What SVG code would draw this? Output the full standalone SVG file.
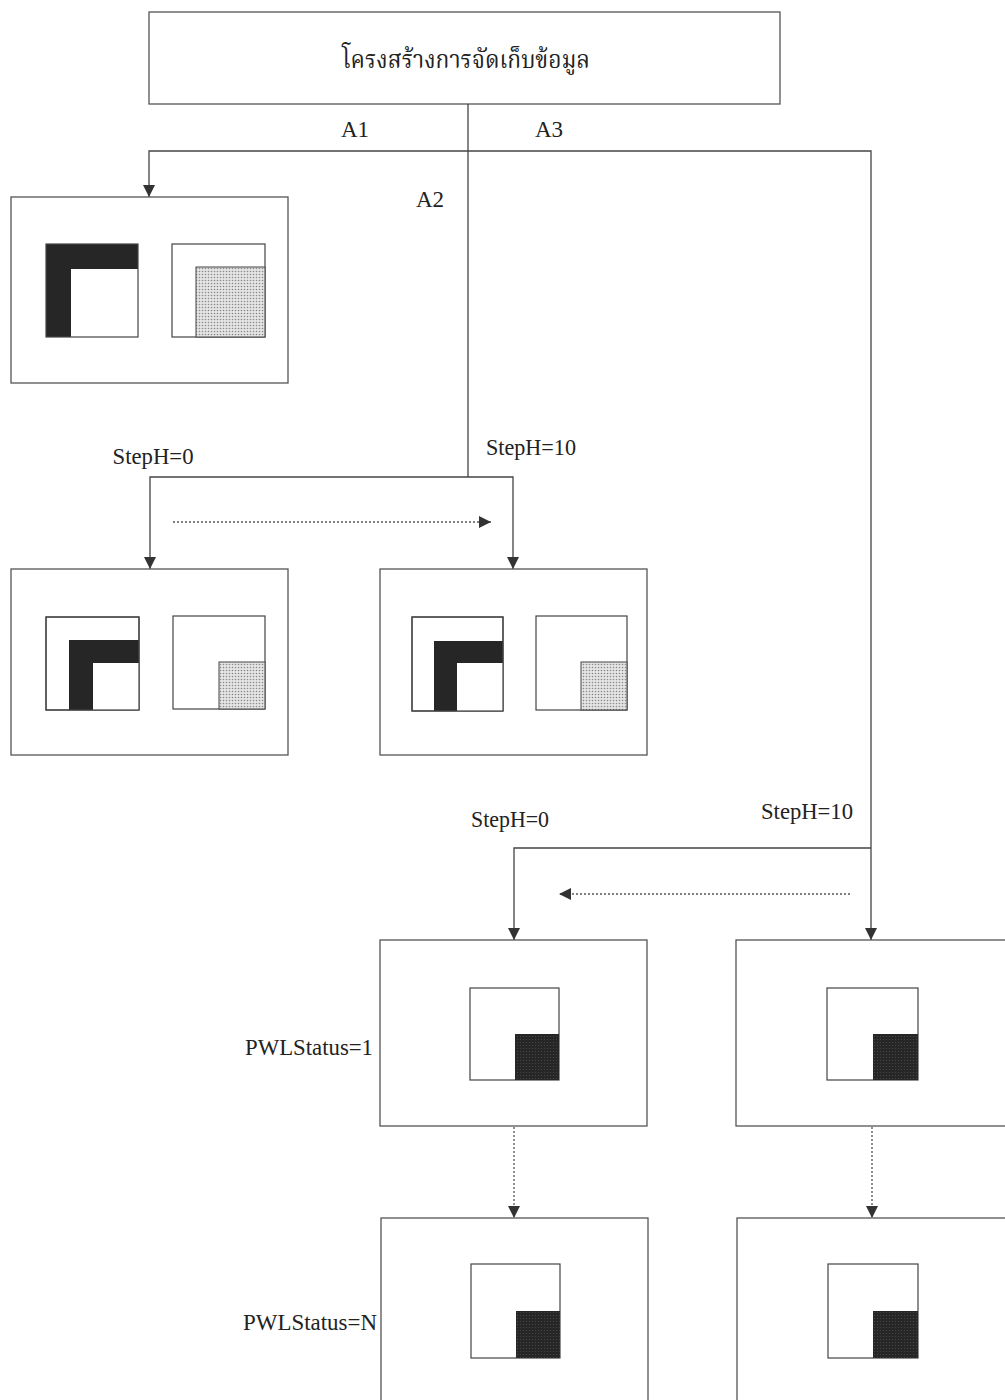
<svg xmlns="http://www.w3.org/2000/svg" width="1005" height="1400" viewBox="0 0 1005 1400">
<style>
.box{fill:#fff;stroke:#555;stroke-width:1.3}
.sq{fill:#fff;stroke:#444;stroke-width:1.2}
.ol{fill:none;stroke:#444;stroke-width:1.2}
.blk{fill:#262626}
.gry{fill:url(#stip);stroke:#444;stroke-width:1}
.drk{fill:url(#dstip)}
.ln{fill:none;stroke:#444;stroke-width:1.3}
.dot{fill:none;stroke:#555;stroke-width:1.3;stroke-dasharray:2 2}
.lbl{font-family:"Liberation Serif","Times New Roman",serif;font-size:23px;fill:#222;text-anchor:middle}
.th{font-family:"Noto Serif Thai","Noto Sans Thai","Garuda","Loma","Tlwg Typo","DejaVu Sans",sans-serif;font-size:24px;fill:#222;text-anchor:middle}
</style>
<defs>
<pattern id="stip" width="3" height="3" patternUnits="userSpaceOnUse">
<rect width="3" height="3" fill="#e4e4e4"/>
<circle cx="1.5" cy="1.5" r="0.8" fill="#8a8a8a"/>
</pattern>
<pattern id="dstip" width="3" height="3" patternUnits="userSpaceOnUse">
<rect width="3" height="3" fill="#262626"/>
<circle cx="1.5" cy="1.5" r="0.6" fill="#4a4a4a"/>
</pattern>
<marker id="ah" viewBox="0 0 12 12" refX="12" refY="6" markerWidth="12" markerHeight="12" markerUnits="userSpaceOnUse" orient="auto">
<path d="M0,0 L12,6 L0,12 z" fill="#333"/>
</marker>
</defs>

<g id="title">
<rect class="box" x="149" y="12" width="631" height="92"/>
<text class="th" x="466" y="68" textLength="248" lengthAdjust="spacingAndGlyphs">โครงสร้างการจัดเก็บข้อมูล</text>
</g>

<g id="connectors">
<path class="ln" d="M468,104 V477"/>
<path class="ln" d="M468,151 H149 V197" marker-end="url(#ah)"/>
<path class="ln" d="M468,151 H871 V940" marker-end="url(#ah)"/>
<path class="ln" d="M468,477 H150 V569" marker-end="url(#ah)"/>
<path class="ln" d="M468,477 H513 V569" marker-end="url(#ah)"/>
<path class="ln" d="M871,848 H514 V940" marker-end="url(#ah)"/>
<path class="dot" d="M173,522 H491" marker-end="url(#ah)"/>
<path class="dot" d="M850,894 H559" marker-end="url(#ah)"/>
<path class="dot" d="M514,1127 V1218" marker-end="url(#ah)"/>
<path class="dot" d="M872,1127 V1218" marker-end="url(#ah)"/>
</g>

<g id="labels">
<text class="lbl" x="355" y="137" font-size="20">A1</text>
<text class="lbl" x="549" y="137" font-size="20">A3</text>
<text class="lbl" x="430" y="207" font-size="20">A2</text>
<text class="lbl" x="153" y="464" textLength="81" lengthAdjust="spacingAndGlyphs">StepH=0</text>
<text class="lbl" x="531" y="455" textLength="90" lengthAdjust="spacingAndGlyphs">StepH=10</text>
<text class="lbl" x="510" y="827" textLength="78" lengthAdjust="spacingAndGlyphs">StepH=0</text>
<text class="lbl" x="807" y="819" textLength="92" lengthAdjust="spacingAndGlyphs">StepH=10</text>
<text class="lbl" x="309" y="1055" textLength="128" lengthAdjust="spacingAndGlyphs">PWLStatus=1</text>
<text class="lbl" x="310" y="1330" textLength="134" lengthAdjust="spacingAndGlyphs">PWLStatus=N</text>
</g>

<g id="nodeA1">
<rect class="box" x="11" y="197" width="277" height="186"/>
<rect class="blk" x="46" y="244" width="92" height="93"/>
<rect fill="#fff" x="71" y="269" width="67" height="68"/>
<rect class="ol" x="46" y="244" width="92" height="93"/>
<rect class="sq" x="172" y="244" width="93" height="93"/>
<rect class="gry" x="196" y="267" width="69" height="70"/>
</g>

<g id="nodeA2-0">
<rect class="box" x="11" y="569" width="277" height="186"/>
<rect class="sq" x="46" y="617" width="93" height="93"/>
<rect class="blk" x="69" y="640" width="70" height="70"/>
<rect fill="#fff" x="93" y="663" width="46" height="47"/>
<rect class="ol" x="46" y="617" width="93" height="93"/>
<rect class="sq" x="173" y="616" width="92" height="93"/>
<rect class="gry" x="219" y="662" width="46" height="47"/>
</g>

<g id="nodeA2-10">
<rect class="box" x="380" y="569" width="267" height="186"/>
<rect class="sq" x="412" y="617" width="91" height="94"/>
<rect class="blk" x="434" y="641" width="69" height="70"/>
<rect fill="#fff" x="457" y="663" width="46" height="48"/>
<rect class="ol" x="412" y="617" width="91" height="94"/>
<rect class="sq" x="536" y="616" width="91" height="94"/>
<rect class="gry" x="581" y="662" width="46" height="48"/>
</g>

<g id="nodeA3-0-1">
<rect class="box" x="380" y="940" width="267" height="186"/>
<rect class="sq" x="470" y="988" width="89" height="92"/>
<rect class="drk" x="515" y="1034" width="44" height="46"/>
</g>

<g id="nodeA3-10-1">
<rect class="box" x="736" y="940" width="280" height="186"/>
<rect class="sq" x="827" y="988" width="91" height="92"/>
<rect class="drk" x="873" y="1034" width="45" height="46"/>
</g>

<g id="nodeA3-0-N">
<rect class="box" x="381" y="1218" width="267" height="200"/>
<rect class="sq" x="471" y="1264" width="89" height="94"/>
<rect class="drk" x="516" y="1311" width="44" height="47"/>
</g>

<g id="nodeA3-10-N">
<rect class="box" x="737" y="1218" width="280" height="200"/>
<rect class="sq" x="828" y="1264" width="90" height="94"/>
<rect class="drk" x="873" y="1311" width="45" height="47"/>
</g>
</svg>
